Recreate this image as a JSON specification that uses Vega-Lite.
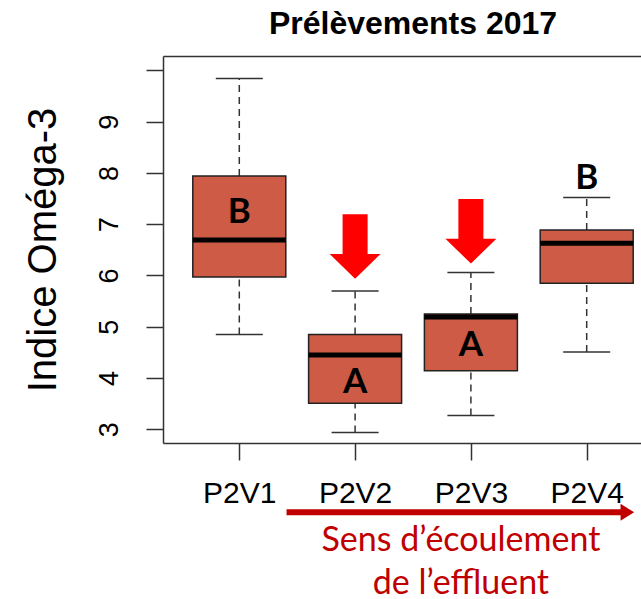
{
  "$schema": "https://vega.github.io/schema/vega-lite/v6.json",
  "width": 478,
  "height": 387,
  "autosize": {"type": "none"},
  "padding": {"left": 163, "top": 56, "right": 0, "bottom": 156},
  "background": "white",
  "config": {
    "font": "Liberation Sans",
    "view": {"stroke": null},
    "axis": {"domainColor": "#333333", "domainWidth": 1.5, "tickColor": "#333333", "tickWidth": 1.5, "grid": false, "labelColor": "black", "titleColor": "black"}
  },
  "title": {
    "text": "Prélèvements 2017",
    "font": "Liberation Sans",
    "fontSize": 32,
    "fontWeight": "bold",
    "color": "black",
    "anchor": "middle",
    "frame": "group",
    "dx": 11,
    "dy": 30,
    "offset": 20,
    "baseline": "alphabetic"
  },
  "datasets": {
    "boxes": [
      {"site": "P2V1", "lower": 4.85, "q1": 5.97, "median": 6.69, "q3": 7.94, "upper": 9.84, "letter": "B", "letter_y": 7.02},
      {"site": "P2V2", "lower": 2.94, "q1": 3.51, "median": 4.45, "q3": 4.85, "upper": 5.70, "letter": "A", "letter_y": 3.70},
      {"site": "P2V3", "lower": 3.27, "q1": 4.14, "median": 5.19, "q3": 5.25, "upper": 6.06, "letter": "A", "letter_y": 4.43},
      {"site": "P2V4", "lower": 4.51, "q1": 5.85, "median": 6.63, "q3": 6.885, "upper": 7.52, "letter": "B", "letter_y": 7.68}
    ],
    "arrows": [
      {"site": "P2V2", "arrow_y": 6.565},
      {"site": "P2V3", "arrow_y": 6.862}
    ],
    "flow": [
      {"from": 1.408, "to": 4.351, "level": 1.381}
    ],
    "flowtext": [
      {"text": "Sens d’écoulement", "xpos": 2.914, "level": 0.632},
      {"text": "de l’effluent", "xpos": 2.914, "level": -0.22}
    ]
  },
  "resolve": {"scale": {"x": "independent"}, "axis": {"x": "independent"}},
  "layer": [
    {
      "data": {"name": "boxes"},
      "encoding": {
        "x": {
          "field": "site",
          "type": "nominal",
          "sort": ["P2V1", "P2V2", "P2V3", "P2V4"],
          "scale": {"type": "point", "padding": 0.5639, "align": 0.5842},
          "axis": {"orient": "bottom", "title": null, "labelAngle": 0, "labelFontSize": 30, "labelFont": "Liberation Sans", "labelBaseline": "alphabetic", "labelPadding": 42, "tickSize": 17}
        }
      },
      "layer": [
        {
          "mark": {"type": "rule", "color": "#333333", "strokeWidth": 1.5, "strokeDash": [7, 5]},
          "encoding": {
            "y": {"field": "lower", "type": "quantitative", "title": "Indice Oméga-3",
              "scale": {"domain": [2.733, 10.281], "nice": false, "zero": false},
              "axis": {"values": [3, 4, 5, 6, 7, 8, 9, 10], "labelExpr": "datum.value == 10 ? '' : datum.label", "tickSize": 17, "labelAngle": 270, "labelAlign": "center", "labelBaseline": "alphabetic", "labelPadding": 29, "labelFontSize": 27, "labelFont": "Liberation Sans", "titleFontSize": 40, "titleFont": "Liberation Sans", "titleFontWeight": "normal", "titlePadding": 32}},
            "y2": {"field": "q1"}
          }
        },
        {
          "mark": {"type": "rule", "color": "#333333", "strokeWidth": 1.5, "strokeDash": [7, 5]},
          "encoding": {
            "y": {"field": "q3", "type": "quantitative", "title": "Indice Oméga-3"},
            "y2": {"field": "upper"}
          }
        },
        {
          "mark": {"type": "tick", "color": "#333333", "size": 47, "thickness": 1.5, "opacity": 1},
          "encoding": {"y": {"field": "lower", "type": "quantitative", "title": "Indice Oméga-3"}}
        },
        {
          "mark": {"type": "tick", "color": "#333333", "size": 47, "thickness": 1.5, "opacity": 1},
          "encoding": {"y": {"field": "upper", "type": "quantitative", "title": "Indice Oméga-3"}}
        },
        {
          "mark": {"type": "bar", "size": 93, "fill": "#cd5b45", "stroke": "#222222", "strokeWidth": 1.5, "opacity": 1},
          "encoding": {
            "y": {"field": "q1", "type": "quantitative", "title": "Indice Oméga-3"},
            "y2": {"field": "q3"}
          }
        },
        {
          "mark": {"type": "tick", "color": "black", "size": 93, "thickness": 5, "opacity": 1},
          "encoding": {"y": {"field": "median", "type": "quantitative", "title": "Indice Oméga-3"}}
        },
        {
          "mark": {"type": "text", "font": "Lato", "fontWeight": "bold", "fontSize": 35, "color": "black", "baseline": "alphabetic", "align": "center"},
          "encoding": {
            "y": {"field": "letter_y", "type": "quantitative", "title": "Indice Oméga-3"},
            "text": {"field": "letter"}
          }
        },
        {
          "data": {"name": "arrows"},
          "mark": {"type": "point", "filled": true, "color": "#ff0000", "opacity": 1, "strokeWidth": 0, "size": 4160,
            "shape": "M -0.388 -1 L 0.388 -1 L 0.388 0.23 L 0.79 0.23 L 0 1 L -0.79 0.23 L -0.388 0.23 Z"},
          "encoding": {
            "y": {"field": "arrow_y", "type": "quantitative", "title": "Indice Oméga-3"}
          }
        }
      ]
    },
    {
      "layer": [
        {
          "data": {"name": "flow"},
          "mark": {"type": "rule", "color": "#c00000", "strokeWidth": 6, "clip": false},
          "encoding": {
            "x": {"field": "from", "type": "quantitative",
              "scale": {"domain": [0.341, 4.469], "nice": false, "zero": false},
              "axis": {"orient": "top", "title": null, "ticks": false, "labels": false, "grid": false, "domain": true}},
            "x2": {"field": "to"},
            "y": {"field": "level", "type": "quantitative", "title": "Indice Oméga-3"}
          }
        },
        {
          "data": {"name": "flow"},
          "mark": {"type": "point", "filled": true, "color": "#c00000", "opacity": 1, "strokeWidth": 0, "size": 289, "clip": false,
            "shape": "M -0.8 -1 L 0.8 0 L -0.8 1 Z"},
          "encoding": {
            "x": {"field": "to", "type": "quantitative"},
            "y": {"field": "level", "type": "quantitative", "title": "Indice Oméga-3"}
          }
        },
        {
          "data": {"name": "flowtext"},
          "mark": {"type": "text", "font": "Lato", "fontSize": 34, "color": "#c00000", "baseline": "alphabetic", "align": "center", "clip": false},
          "encoding": {
            "x": {"field": "xpos", "type": "quantitative"},
            "y": {"field": "level", "type": "quantitative", "title": "Indice Oméga-3"},
            "text": {"field": "text"}
          }
        }
      ]
    }
  ]
}
